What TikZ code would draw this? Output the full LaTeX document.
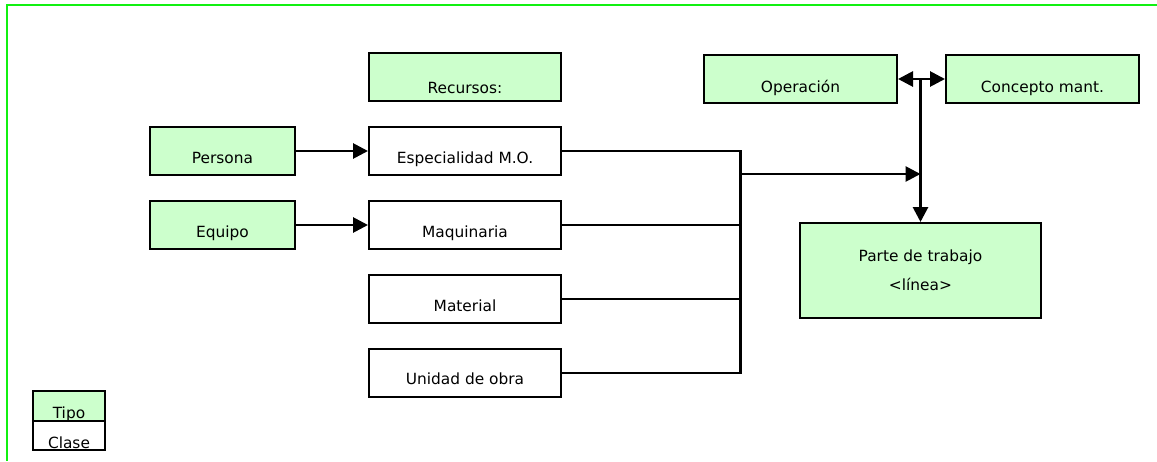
\documentclass[tikz,border=0pt]{standalone}
\usepackage{fontspec}
\setmainfont{DejaVu Sans}
\usepackage{tikz}
\usetikzlibrary{positioning, arrows.meta}
\definecolor{tipogreen}{HTML}{CCFFCC}
\definecolor{framegreen}{HTML}{11F011}

\begin{document}
\begin{tikzpicture}[x=1pt, y=-1pt, font=\fontsize{15.4}{29}\selectfont,
  caja/.style={draw, line width=2pt, inner sep=0pt, minimum width=192pt,
    text height=36pt, text depth=12pt},
  tipo/.style={caja, fill=tipogreen},
  clase/.style={caja, fill=white},
  link/.style={line width=2pt},
  arr/.style={line width=2.8pt, -{Triangle[length=15pt, width=15pt]}}]
  \useasboundingbox (0,0) rectangle (1157,461);
  \draw[framegreen, line width=2.5pt] (7,461) -- (7,5) -- (1157,5);

  % recursos
  \node[clase] (espec) at (465,151) {Especialidad M.O.};
  \node[tipo, above=24pt of espec, text height=40pt, text depth=8pt] (recursos) {Recursos:};
  \node[tipo, left=72pt of espec, minimum width=145pt] (persona) {Persona};
  \node[clase, below=24pt of espec] (maquinaria) {Maquinaria};
  \node[tipo, left=72pt of maquinaria, minimum width=145pt] (equipo) {Equipo};
  \node[clase, below=24pt of maquinaria] (material) {Material};
  \node[clase, below=24pt of material, text height=35pt, text depth=13pt] (unidad) {Unidad de obra};

  % parte de trabajo
  \node[tipo, minimum width=193pt, text height=37pt, text depth=11pt] (operacion) at (800.5,79) {Operación};
  \node[tipo, minimum width=193pt, text height=37pt, text depth=11pt, right=47pt of operacion] (concepto) {Concepto mant.};
  \node[draw, fill=tipogreen, line width=2pt, minimum width=241pt, minimum height=95pt,
    align=center] (parte) at (920.5,270.5) {Parte de trabajo\\<línea>};

  % leyenda
  \node[tipo, minimum width=72pt, text height=27pt, text depth=3pt] (leyTipo) at (69,406) {Tipo};
  \node[clase, minimum width=72pt, text height=27.5pt, text depth=1.5pt, below=-2pt of leyTipo] (leyClase) {Clase};

  \coordinate (bus) at (740,174);
  \coordinate (cruce) at (operacion.east -| parte.north);
  \draw[link] (espec.east) -- (espec.east -| bus);
  \draw[link] (maquinaria.east) -- (maquinaria.east -| bus);
  \draw[link] (material.east) -- (material.east -| bus);
  \draw[link] (unidad.east) -- (unidad.east -| bus);
  \draw[line width=3pt] ([yshift=1pt]espec.east -| bus) -- ([yshift=-1pt]unidad.east -| bus);
  \draw[arr] (bus) -- (bus -| parte.north);
  \draw[arr] (cruce) -- (parte.north);
  \draw[arr] (cruce) -- (operacion.east);
  \draw[arr] (cruce) -- (concepto.west);
  \draw[arr] (persona) -- (espec);
  \draw[arr] (equipo) -- (maquinaria);
\end{tikzpicture}
\end{document}
